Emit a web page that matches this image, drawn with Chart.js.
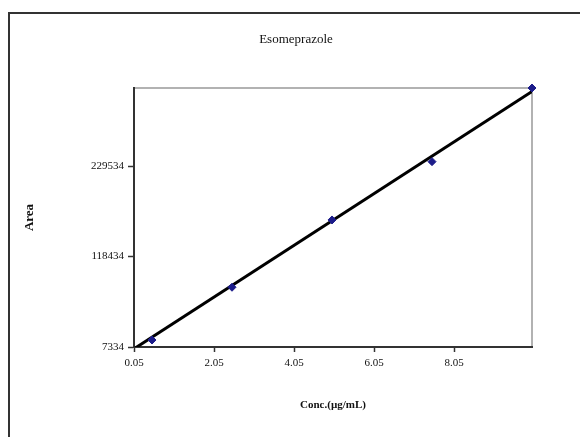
<!DOCTYPE html>
<html>
<head>
<meta charset="utf-8">
<script src="https://cdn.jsdelivr.net/npm/chart.js@4"></script>
<style>
  html, body { margin: 0; padding: 0; background: #fff; }
  #wrap { width: 580px; height: 437px; position: relative; }
</style>
</head>
<body>
<div id="wrap"><canvas id="calChart" width="580" height="437"></canvas></div>
<script>
// calibration data
const conc = [0.5, 2.5, 5, 7.5, 10];
const area = [15900, 80700, 163300, 234900, 325300];
// trend line end points (as drawn)
const trendX = [0.05, 10];
const trendY = [5100, 321100];
// axis ticks
const xTicks = [0.05, 2.05, 4.05, 6.05, 8.05];
const yTicks = [7334, 118434, 229534];
const chartTitle = 'Esomeprazole';

const serif = '"Liberation Serif", "Times New Roman", serif';

// outer frame, plot box and the title (centred on the whole figure)
const framePlugin = {
  id: 'frame',
  beforeDraw(chart) {
    const ctx = chart.ctx;
    ctx.save();
    ctx.fillStyle = '#fff';
    ctx.fillRect(0, 0, chart.width, chart.height);
    ctx.strokeStyle = '#333';
    ctx.lineWidth = 2;
    ctx.beginPath();
    ctx.moveTo(9, chart.height);
    ctx.lineTo(9, 13);
    ctx.lineTo(chart.width, 13);
    ctx.stroke();
    const a = chart.chartArea;
    ctx.strokeStyle = '#999';
    ctx.lineWidth = 1.5;
    ctx.strokeRect(a.left, a.top, a.right - a.left, a.bottom - a.top);
    ctx.fillStyle = '#111';
    ctx.font = '13px ' + serif;
    ctx.textAlign = 'center';
    ctx.textBaseline = 'middle';
    ctx.fillText(chartTitle, 296, 40);
    ctx.restore();
  }
};

const points = conc.map((c, i) => ({x: c, y: area[i]}));
const trend = trendX.map((c, i) => ({x: c, y: trendY[i]}));

new Chart(document.getElementById('calChart'), {
  type: 'scatter',
  data: {
    datasets: [{
      label: 'Area',
      data: points,
      order: 0,
      clip: false,
      pointStyle: 'rectRot',
      pointRadius: 4,
      backgroundColor: '#1c1c8a',
      borderColor: '#1c1c8a',
      borderWidth: 1
    },
    {
      label: 'Linear',
      data: trend,
      order: 1,
      showLine: true,
      borderColor: '#000',
      borderWidth: 3,
      pointRadius: 0
    }]
  },
  options: {
    responsive: false,
    animation: false,
    events: [],
    layout: { padding: { left: 0, right: 48, top: 88, bottom: 0 } },
    plugins: {
      legend: { display: false },
      tooltip: { enabled: false },
      title: { display: false }
    },
    scales: {
      x: {
        type: 'linear',
        min: 0.05,
        max: 10,
        afterBuildTicks: s => { s.ticks = xTicks.map(v => ({value: v})); },
        afterFit: s => { s.height = 90; },
        border: { display: true, color: '#333', width: 2 },
        grid: { display: true, drawOnChartArea: false, drawTicks: true, tickLength: 5, tickColor: '#333', tickWidth: 1.5 },
        ticks: {
          color: '#111',
          padding: 5,
          maxRotation: 0,
          font: { family: serif, size: 11 },
          callback: v => v.toFixed(2)
        },
        title: {
          display: true,
          text: 'Conc.(µg/mL)',
          color: '#111',
          font: { family: serif, size: 11, weight: 'bold' },
          padding: { top: 0, bottom: 25 }
        }
      },
      y: {
        type: 'linear',
        min: 7334,
        max: 325300,
        afterBuildTicks: s => { s.ticks = yTicks.map(v => ({value: v})); },
        afterFit: s => { s.width = 134; },
        border: { display: true, color: '#333', width: 2 },
        grid: { display: true, drawOnChartArea: false, drawTicks: true, tickLength: 6, tickColor: '#333', tickWidth: 1.5 },
        ticks: {
          color: '#111',
          padding: 4,
          font: { family: serif, size: 11 },
          callback: v => String(v)
        },
        title: {
          display: true,
          text: 'Area',
          color: '#111',
          font: { family: serif, size: 13, weight: 'bold' },
          padding: { top: 22, bottom: 0 }
        }
      }
    }
  },
  plugins: [framePlugin]
});
</script>
</body>
</html>
